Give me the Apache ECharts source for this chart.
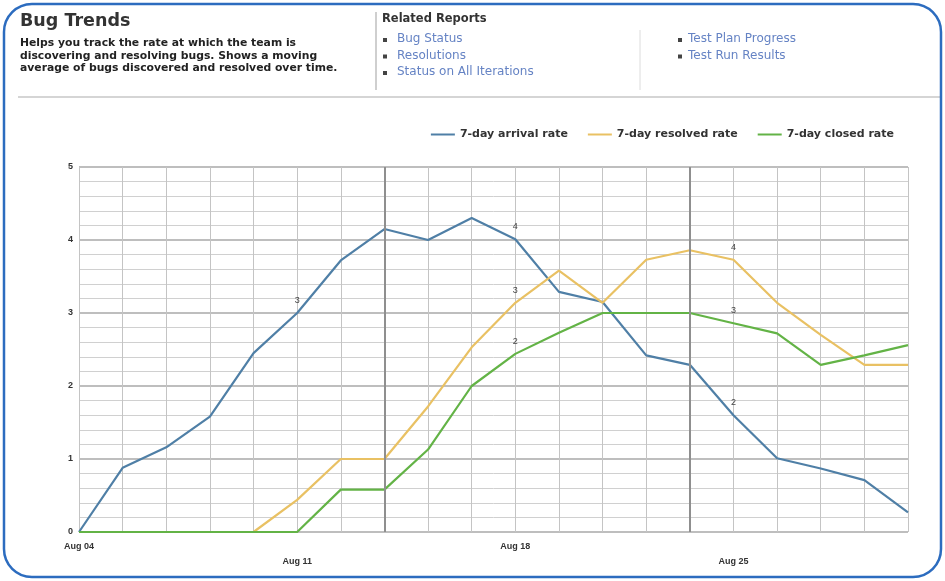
<!DOCTYPE html>
<html><head><meta charset="utf-8">
<script src="https://cdn.jsdelivr.net/npm/echarts@6/dist/echarts.min.js"></script>
<style>html,body{margin:0;padding:0;background:#fff;}#c{width:945px;height:581px;}</style>
</head><body><div id="c"></div>
<script>
const categories = ["Aug 04","","","","","Aug 11","","","","","Aug 18","","","","","Aug 25","","","",""];
const arrivalRate  = [0, 0.88, 1.16, 1.58, 2.45, 3.0, 3.72, 4.15, 4.0, 4.3, 4.01, 3.29, 3.15, 2.42, 2.29, 1.6, 1.01, 0.87, 0.71, 0.27];
const resolvedRate = [0, 0, 0, 0, 0, 0.44, 1.0, 1.0, 1.72, 2.53, 3.14, 3.58, 3.14, 3.73, 3.86, 3.73, 3.14, 2.7, 2.29, 2.29];
const closedRate   = [0, 0, 0, 0, 0, 0, 0.58, 0.58, 1.13, 2.0, 2.44, 2.73, 3.0, 3.0, 3.0, 2.86, 2.72, 2.29, 2.42, 2.56];
const seriesNames = ["7-day arrival rate", "7-day resolved rate", "7-day closed rate"];
const labelIndices = [5, 10, 15];
const iterationMarks = [7, 14];
const yTicks = [0, 1, 2, 3, 4, 5];
const descLines = ["Helps you track the rate at which the team is", "discovering and resolving bugs. Shows a moving", "average of bugs discovered and resolved over time."];
const linksLeft = ["Bug Status", "Resolutions", "Status on All Iterations"];
const linksRight = ["Test Plan Progress", "Test Run Results"];

const colors = ["#4f7fa6", "#e9c163", "#63b346"];

function withLabels(arr) {
  return arr.map((v, i) => {
    if (labelIndices.indexOf(i) >= 0 && Math.round(v) > 0) {
      return { value: v, label: { show: true, formatter: String(Math.round(v)) } };
    }
    return v;
  });
}

const chart = echarts.init(document.getElementById('c'));
const graphics = [
  { type: 'rect', shape: { x: 4, y: 4, width: 937, height: 573, r: 28 }, style: { fill: 'none', stroke: '#2c6cbf', lineWidth: 2.5 }, z: 10 },
  { type: 'text', left: 20, top: 12, style: { text: 'Bug Trends', font: 'bold 17.5px "DejaVu Sans", sans-serif', fill: '#333' } },
  { type: 'line', shape: { x1: 376, y1: 12, x2: 376, y2: 90 }, style: { stroke: '#cfcfcf', lineWidth: 2 } },
  { type: 'line', shape: { x1: 640, y1: 30, x2: 640, y2: 90 }, style: { stroke: '#dcdcdc', lineWidth: 1 } },
  { type: 'line', shape: { x1: 18, y1: 97, x2: 940, y2: 97 }, style: { stroke: '#d5d5d5', lineWidth: 2 } },
  { type: 'text', left: 382, top: 13, style: { text: 'Related Reports', font: 'bold 11.5px "DejaVu Sans", sans-serif', fill: '#333' } }
];
descLines.forEach((t, i) => {
  graphics.push({ type: 'text', left: 20, top: 38 + i * 12.5, style: { text: t, font: 'bold 10.8px "DejaVu Sans", sans-serif', fill: '#222' } });
});
linksLeft.forEach((t, i) => {
  graphics.push({ type: 'rect', shape: { x: 383, y: 38 + i * 16.5, width: 4, height: 4 }, style: { fill: '#444' } });
  graphics.push({ type: 'text', left: 397, top: 33 + i * 16.5, style: { text: t, font: '12px "DejaVu Sans", sans-serif', fill: '#6583c4' } });
});
linksRight.forEach((t, i) => {
  graphics.push({ type: 'rect', shape: { x: 678, y: 38 + i * 16.5, width: 4, height: 4 }, style: { fill: '#444' } });
  graphics.push({ type: 'text', left: 688, top: 33 + i * 16.5, style: { text: t, font: '12px "DejaVu Sans", sans-serif', fill: '#6583c4' } });
});

const lineLabel = { position: 'top', distance: 8, fontSize: 9, color: '#444' };

chart.setOption({
  animation: false,
  backgroundColor: '#fff',
  color: colors,
  graphic: graphics,
  legend: {
    top: 124, right: 46,
    icon: 'rect', itemWidth: 24, itemHeight: 2, itemGap: 20,
    textStyle: { fontSize: 11, color: '#333', fontWeight: 'bold', fontFamily: 'DejaVu Sans' },
    data: seriesNames
  },
  grid: { left: 79, right: 37, top: 167, bottom: 49 },
  xAxis: {
    type: 'category', data: categories, boundaryGap: false,
    axisLine: { show: false }, axisTick: { show: false },
    axisLabel: {
      interval: 0, fontSize: 9, fontWeight: 'bold', color: '#333', margin: 7,
      formatter: (v, i) => v ? (i % 10 === 5 ? '\n' + v : v) : '',
      lineHeight: 15
    },
    splitLine: { show: true, lineStyle: { color: '#c4c4c4', width: 1 } }
  },
  yAxis: {
    type: 'value', min: yTicks[0], max: yTicks[yTicks.length - 1], interval: 1,
    axisLine: { show: false }, axisTick: { show: false },
    axisLabel: { fontSize: 9, fontWeight: 'bold', color: '#333', margin: 6 },
    splitLine: { show: true, lineStyle: { color: '#a8a8a8', width: 1.5 } },
    minorTick: { show: false, splitNumber: 5 },
    minorSplitLine: { show: true, lineStyle: { color: '#d0d0d0', width: 1 } }
  },
  series: [
    { name: seriesNames[0], type: 'line', data: withLabels(arrivalRate), symbol: 'circle', symbolSize: 0, showSymbol: true,
      lineStyle: { width: 2.2 }, label: lineLabel,
      markLine: { silent: true, symbol: 'none', label: { show: false },
        lineStyle: { color: '#8f8f8f', width: 2, type: 'solid' },
        data: iterationMarks.map(i => ({ xAxis: i })) } },
    { name: seriesNames[1], type: 'line', data: withLabels(resolvedRate), symbol: 'circle', symbolSize: 0, showSymbol: true,
      lineStyle: { width: 2.2 }, label: lineLabel },
    { name: seriesNames[2], type: 'line', data: withLabels(closedRate), symbol: 'circle', symbolSize: 0, showSymbol: true,
      lineStyle: { width: 2.2 }, label: lineLabel }
  ]
});
</script></body></html>
